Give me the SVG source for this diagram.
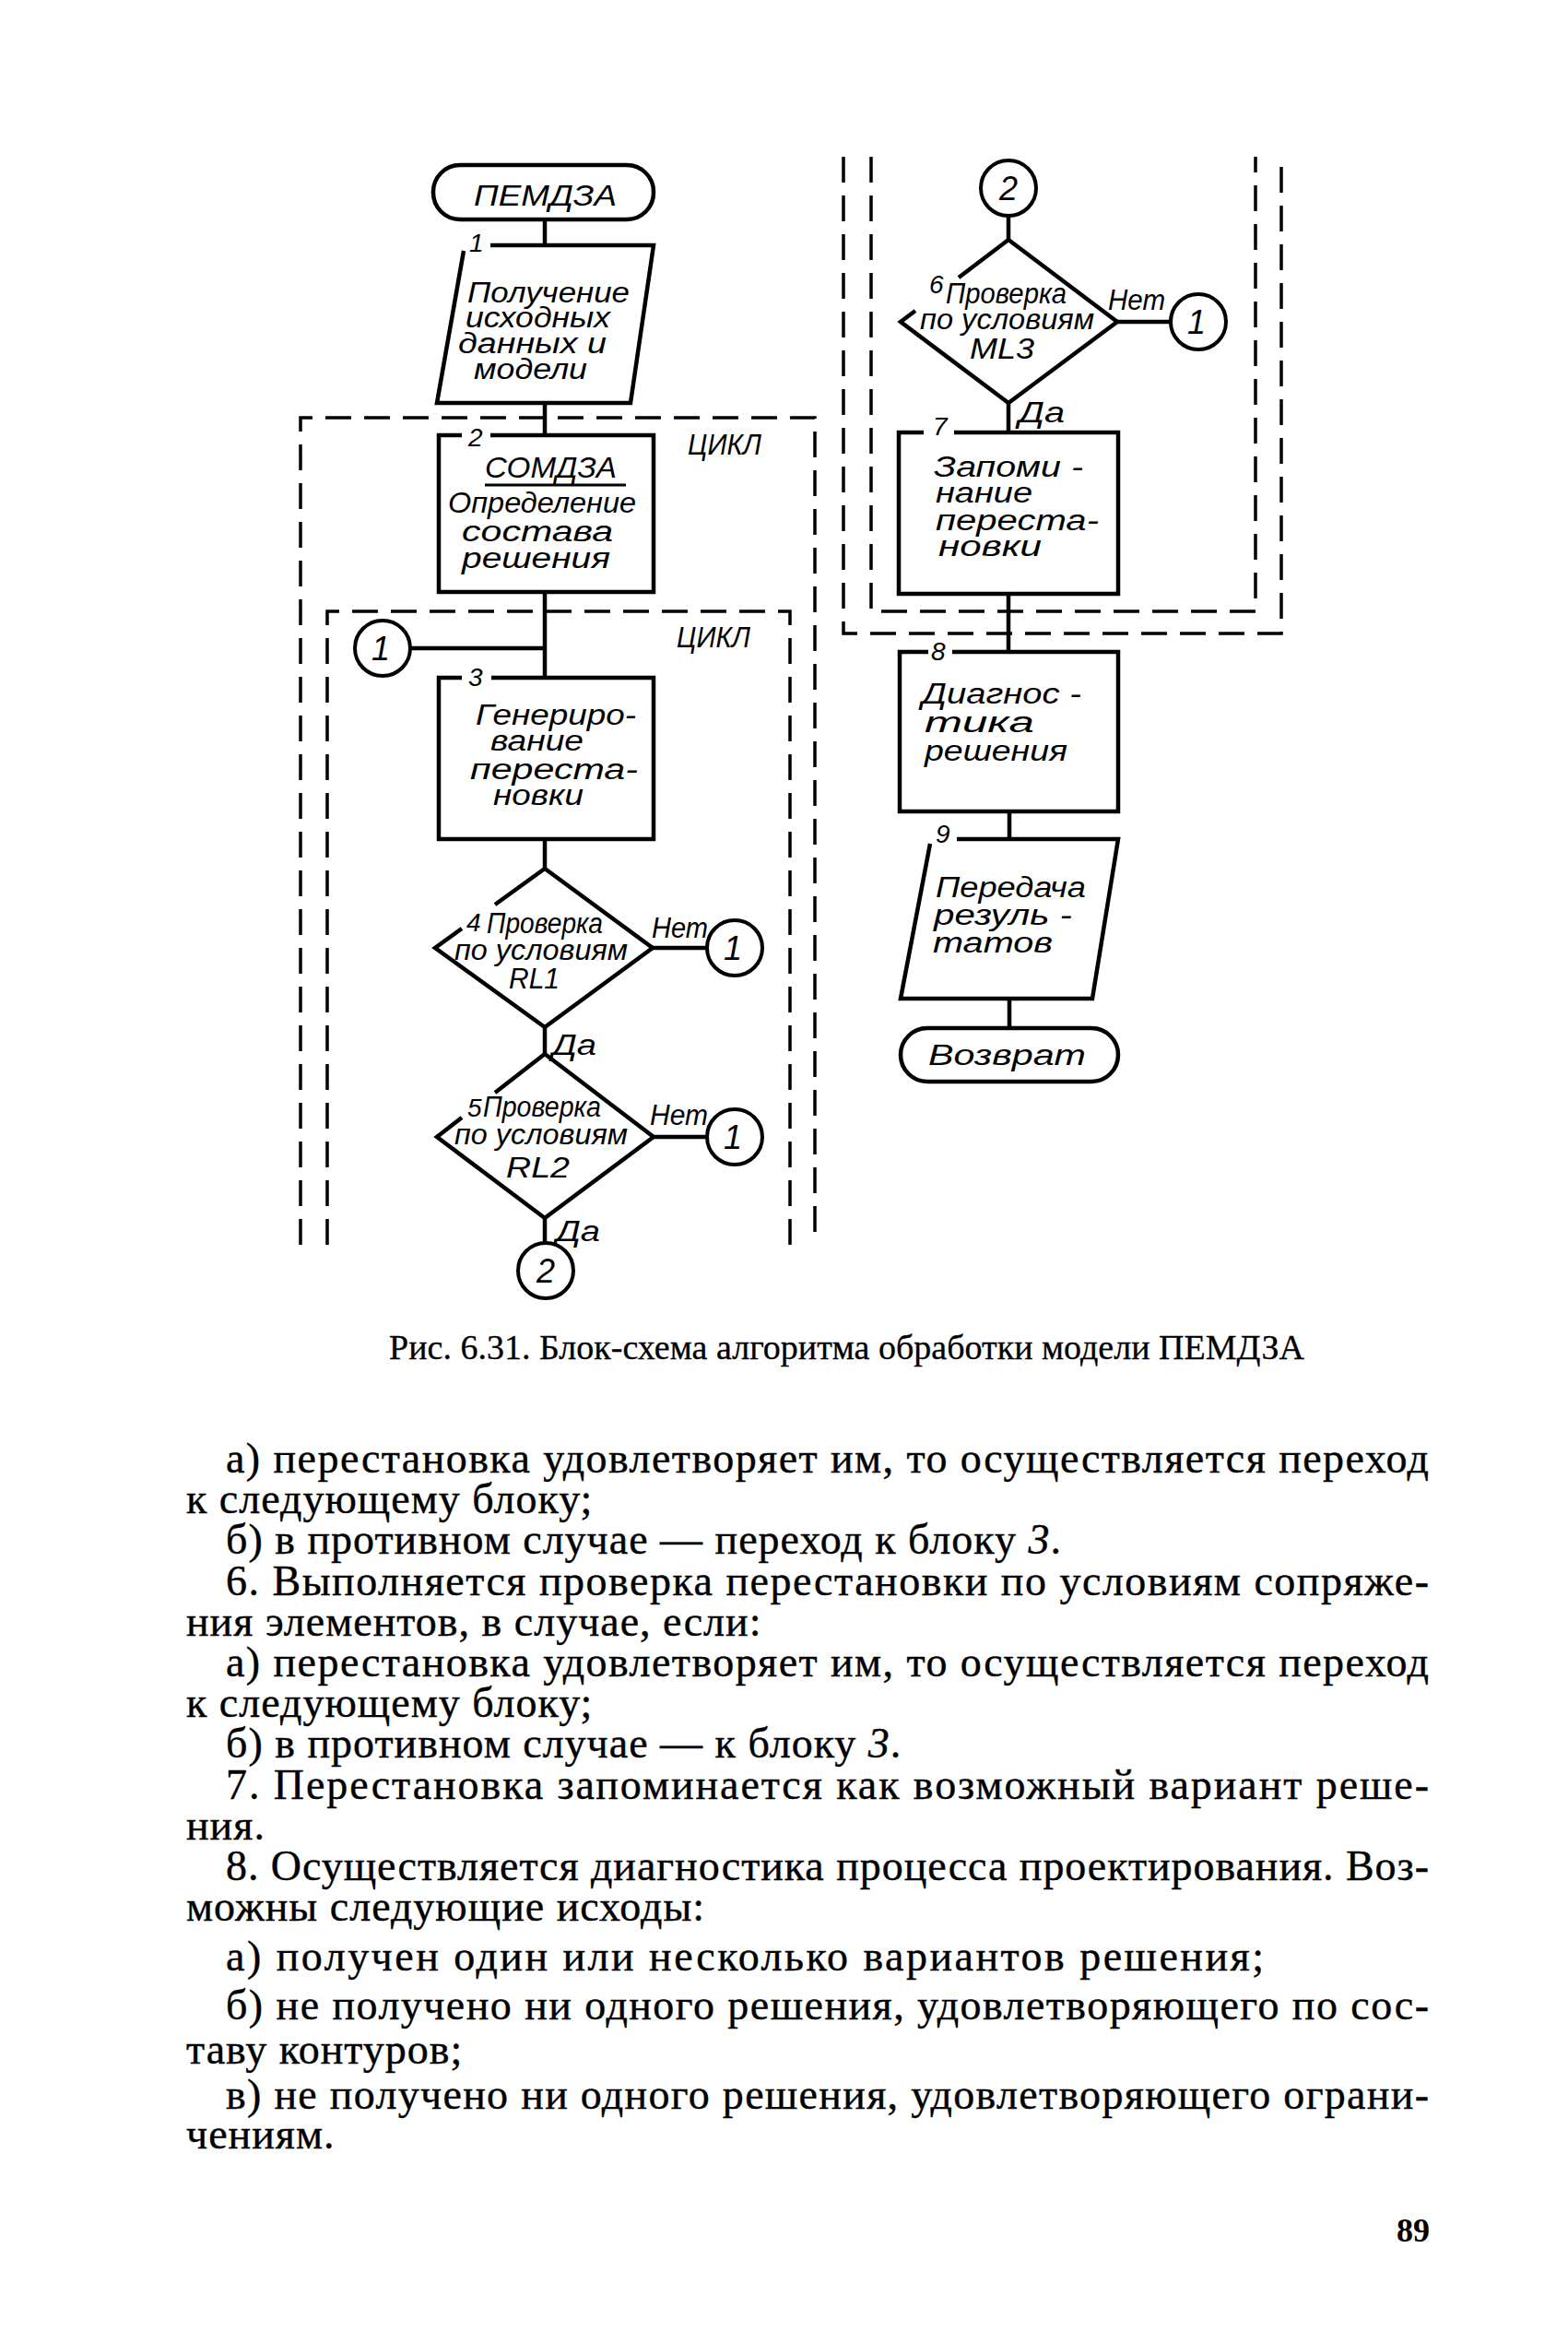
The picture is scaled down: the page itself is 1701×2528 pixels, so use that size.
<svg xmlns="http://www.w3.org/2000/svg" width="1701" height="2528" viewBox="0 0 1701 2528">
<style>
.s{fill:none;stroke:#000;stroke-width:4.5;stroke-linejoin:miter}
.d{fill:none;stroke:#000;stroke-width:3.5;stroke-dasharray:28 14}
.c{fill:#fff;stroke:#000;stroke-width:4}
.h{font-family:"Liberation Sans","DejaVu Sans",sans-serif;font-style:italic;font-size:31px;fill:#000}
.n{font-family:"Liberation Sans","DejaVu Sans",sans-serif;font-style:italic;font-size:28px;fill:#000}
.cn{font-family:"Liberation Sans","DejaVu Sans",sans-serif;font-style:italic;font-size:36px;fill:#000;text-anchor:middle}
.b{font-family:"Liberation Serif","Times New Roman",serif;font-size:46px;letter-spacing:1px;fill:#000;stroke:#000;stroke-width:0.4}
.cap{font-family:"Liberation Serif","Times New Roman",serif;font-size:37px;fill:#000;stroke:#000;stroke-width:0.3}
.i{font-style:italic}
</style>
<rect width="1701" height="2528" fill="#fff"/>

<g id="loops">
<path class="d" d="M326,1350 V453 H884 V1350"/>
<path class="d" d="M355,1350 V663 H857 V1350"/>
<path class="d" d="M915,170 V687 H1390 V170"/>
<path class="d" d="M945,170 V663 H1362 V170"/>
<text class="h" x="746" y="493" font-size="35" textLength="80" lengthAdjust="spacingAndGlyphs">ЦИКЛ</text>
<text class="h" x="734" y="702" font-size="35" textLength="80" lengthAdjust="spacingAndGlyphs">ЦИКЛ</text>
</g>

<g id="connectors">
<path class="s" d="M591,238 V266"/>
<path class="s" d="M591,437 V472"/>
<path class="s" d="M591,642 V735"/>
<path class="s" d="M445,703 H591"/>
<path class="s" d="M591,910 V942"/>
<path class="s" d="M708,1028 H767"/>
<path class="s" d="M591,1114 V1143"/>
<path class="s" d="M709,1233 H767"/>
<path class="s" d="M591,1321 V1348"/>
<path class="s" d="M1094,234 V260"/>
<path class="s" d="M1212,349 H1270"/>
<path class="s" d="M1094,437 V469"/>
<path class="s" d="M1094,644 V707"/>
<path class="s" d="M1095,880 V910"/>
<path class="s" d="M1095,1083 V1115"/>
<text class="h" x="707" y="1017" textLength="61" lengthAdjust="spacingAndGlyphs">Нет</text>
<text class="h" x="599" y="1144" textLength="48" lengthAdjust="spacingAndGlyphs">Да</text>
<text class="h" x="705" y="1220" textLength="63" lengthAdjust="spacingAndGlyphs">Нет</text>
<text class="h" x="603" y="1346" textLength="48" lengthAdjust="spacingAndGlyphs">Да</text>
<text class="h" x="1202" y="336" textLength="62" lengthAdjust="spacingAndGlyphs">Нет</text>
<text class="h" x="1105" y="458" textLength="50" lengthAdjust="spacingAndGlyphs">Да</text>
</g>

<g id="start">
<rect class="s" x="470" y="179" width="239" height="59" rx="29"/>
<text class="h" x="514" y="223" font-size="37" textLength="155" lengthAdjust="spacingAndGlyphs">ПЕМДЗА</text>
</g>

<g id="block1">
<path class="s" d="M532,266 H709 L684,437 H474 L503,272"/>
<text class="n" x="509" y="273">1</text>
<text class="h" x="507" y="328" textLength="176" lengthAdjust="spacingAndGlyphs">Получение</text>
<text class="h" x="505" y="355" textLength="157" lengthAdjust="spacingAndGlyphs">исходных</text>
<text class="h" x="497" y="383" textLength="161" lengthAdjust="spacingAndGlyphs">данных и</text>
<text class="h" x="514" y="411" textLength="123" lengthAdjust="spacingAndGlyphs">модели</text>
</g>

<g id="block2">
<path class="s" d="M501,472 H476 V642 H709 V472 H532"/>
<text class="n" x="508" y="484">2</text>
<text class="h" x="526" y="518" textLength="143" lengthAdjust="spacingAndGlyphs">СОМДЗА</text>
<path d="M526,526 H679" stroke="#000" stroke-width="3"/>
<text class="h" x="486" y="556" textLength="204" lengthAdjust="spacingAndGlyphs">Определение</text>
<text class="h" x="501" y="587" textLength="164" lengthAdjust="spacingAndGlyphs">состава</text>
<text class="h" x="501" y="616" textLength="161" lengthAdjust="spacingAndGlyphs">решения</text>
</g>

<g id="conn1a">
<circle class="c" cx="415" cy="703" r="30"/>
<text class="cn" x="413" y="716">1</text>
</g>

<g id="block3">
<path class="s" d="M501,735 H476 V910 H709 V735 H533"/>
<text class="n" x="508" y="744">3</text>
<text class="h" x="516" y="786" textLength="174" lengthAdjust="spacingAndGlyphs">Генериро-</text>
<text class="h" x="532" y="814" textLength="101" lengthAdjust="spacingAndGlyphs">вание</text>
<text class="h" x="510" y="845" textLength="182" lengthAdjust="spacingAndGlyphs">переста-</text>
<text class="h" x="535" y="873" textLength="98" lengthAdjust="spacingAndGlyphs">новки</text>
</g>

<g id="block4">
<path class="s" d="M537,981 L591,942 L708,1028 L591,1114 L472,1028 L501,1007"/>
<text class="n" x="506" y="1010" font-size="25">4</text>
<text class="h" x="528" y="1012" font-size="30" textLength="126" lengthAdjust="spacingAndGlyphs">Проверка</text>
<text class="h" x="493" y="1041" font-size="30" textLength="188" lengthAdjust="spacingAndGlyphs">по условиям</text>
<text class="h" x="552" y="1072" font-size="30" textLength="55" lengthAdjust="spacingAndGlyphs">RL1</text>
</g>

<g id="conn1b">
<circle class="c" cx="797" cy="1028" r="30"/>
<text class="cn" x="795" y="1041">1</text>
</g>

<g id="block5">
<path class="s" d="M537,1185 L591,1143 L709,1233 L591,1321 L474,1233 L501,1212"/>
<text class="n" x="507" y="1211" font-size="25">5</text>
<text class="h" x="524" y="1211" font-size="30" textLength="128" lengthAdjust="spacingAndGlyphs">Проверка</text>
<text class="h" x="493" y="1241" font-size="30" textLength="188" lengthAdjust="spacingAndGlyphs">по условиям</text>
<text class="h" x="549" y="1277" font-size="30" textLength="69" lengthAdjust="spacingAndGlyphs">RL2</text>
</g>

<g id="conn1c">
<circle class="c" cx="797" cy="1233" r="30"/>
<text class="cn" x="795" y="1246">1</text>
</g>

<g id="conn2a">
<circle class="c" cx="592" cy="1378" r="30"/>
<text class="cn" x="592" y="1391">2</text>
</g>

<g id="conn2b">
<circle class="c" cx="1094" cy="204" r="30"/>
<text class="cn" x="1094" y="217">2</text>
</g>

<g id="block6">
<path class="s" d="M1040,301 L1094,260 L1212,349 L1094,437 L977,349 L993,337"/>
<text class="n" x="1008" y="318" font-size="25">6</text>
<text class="h" x="1026" y="329" font-size="30" textLength="131" lengthAdjust="spacingAndGlyphs">Проверка</text>
<text class="h" x="998" y="357" font-size="30" textLength="189" lengthAdjust="spacingAndGlyphs">по условиям</text>
<text class="h" x="1052" y="389" font-size="30" textLength="70" lengthAdjust="spacingAndGlyphs">ML3</text>
</g>

<g id="conn1d">
<circle class="c" cx="1300" cy="349" r="30"/>
<text class="cn" x="1298" y="362">1</text>
</g>

<g id="block7">
<path class="s" d="M1002,469 H975 V644 H1213 V469 H1035"/>
<text class="n" x="1012" y="472">7</text>
<text class="h" x="1013" y="517" textLength="162" lengthAdjust="spacingAndGlyphs">Запоми -</text>
<text class="h" x="1015" y="545" textLength="105" lengthAdjust="spacingAndGlyphs">нание</text>
<text class="h" x="1015" y="575" textLength="177" lengthAdjust="spacingAndGlyphs">переста-</text>
<text class="h" x="1018" y="603" textLength="112" lengthAdjust="spacingAndGlyphs">новки</text>
</g>

<g id="block8">
<path class="s" d="M1007,707 H976 V880 H1213 V707 H1033"/>
<text class="n" x="1010" y="716">8</text>
<text class="h" x="1000" y="763" textLength="173" lengthAdjust="spacingAndGlyphs">Диагнос -</text>
<text class="h" x="1003" y="794" textLength="119" lengthAdjust="spacingAndGlyphs">тика</text>
<text class="h" x="1003" y="825" textLength="155" lengthAdjust="spacingAndGlyphs">решения</text>
</g>

<g id="block9">
<path class="s" d="M1038,910 H1213 L1185,1083 H977 L1009,915"/>
<text class="n" x="1015" y="914">9</text>
<text class="h" x="1015" y="973" textLength="163" lengthAdjust="spacingAndGlyphs">Передача</text>
<text class="h" x="1013" y="1003" textLength="150" lengthAdjust="spacingAndGlyphs">резуль -</text>
<text class="h" x="1012" y="1033" textLength="130" lengthAdjust="spacingAndGlyphs">татов</text>
</g>

<g id="end">
<rect class="s" x="977" y="1115" width="236" height="58" rx="29"/>
<text class="h" x="1007" y="1155" font-size="35" textLength="171" lengthAdjust="spacingAndGlyphs">Возврат</text>
</g>

<g id="caption">
<text class="cap" x="422" y="1474" textLength="993" lengthAdjust="spacingAndGlyphs">Рис. 6.31. Блок-схема алгоритма обработки модели ПЕМДЗА</text>
</g>

<g id="body">
<text class="b" x="245" y="1597" textLength="1306" lengthAdjust="spacing">а) перестановка удовлетворяет им, то осуществляется переход</text>
<text class="b" x="202" y="1641">к следующему блоку;</text>
<text class="b" x="245" y="1685">б) в противном случае — переход к блоку <tspan class="i">3</tspan>.</text>
<text class="b" x="245" y="1730" textLength="1306" lengthAdjust="spacing">6. Выполняется проверка перестановки по условиям сопряже-</text>
<text class="b" x="202" y="1774">ния элементов, в случае, если:</text>
<text class="b" x="245" y="1818" textLength="1306" lengthAdjust="spacing">а) перестановка удовлетворяет им, то осуществляется переход</text>
<text class="b" x="202" y="1862">к следующему блоку;</text>
<text class="b" x="245" y="1906">б) в противном случае — к блоку <tspan class="i">3</tspan>.</text>
<text class="b" x="245" y="1951" textLength="1306" lengthAdjust="spacing">7. Перестановка запоминается как возможный вариант реше-</text>
<text class="b" x="202" y="1995">ния.</text>
<text class="b" x="245" y="2039" textLength="1306" lengthAdjust="spacing">8. Осуществляется диагностика процесса проектирования. Воз-</text>
<text class="b" x="202" y="2083">можны следующие исходы:</text>
<text class="b" x="245" y="2137" textLength="1127" lengthAdjust="spacing">а) получен один или несколько вариантов решения;</text>
<text class="b" x="245" y="2190" textLength="1306" lengthAdjust="spacing">б) не получено ни одного решения, удовлетворяющего по сос-</text>
<text class="b" x="202" y="2238">таву контуров;</text>
<text class="b" x="245" y="2287" textLength="1306" lengthAdjust="spacing">в) не получено ни одного решения, удовлетворяющего ограни-</text>
<text class="b" x="202" y="2330">чениям.</text>
<text x="1515" y="2431" font-family="'Liberation Serif','Times New Roman',serif" font-weight="bold" font-size="36">89</text>
</g>
</svg>
